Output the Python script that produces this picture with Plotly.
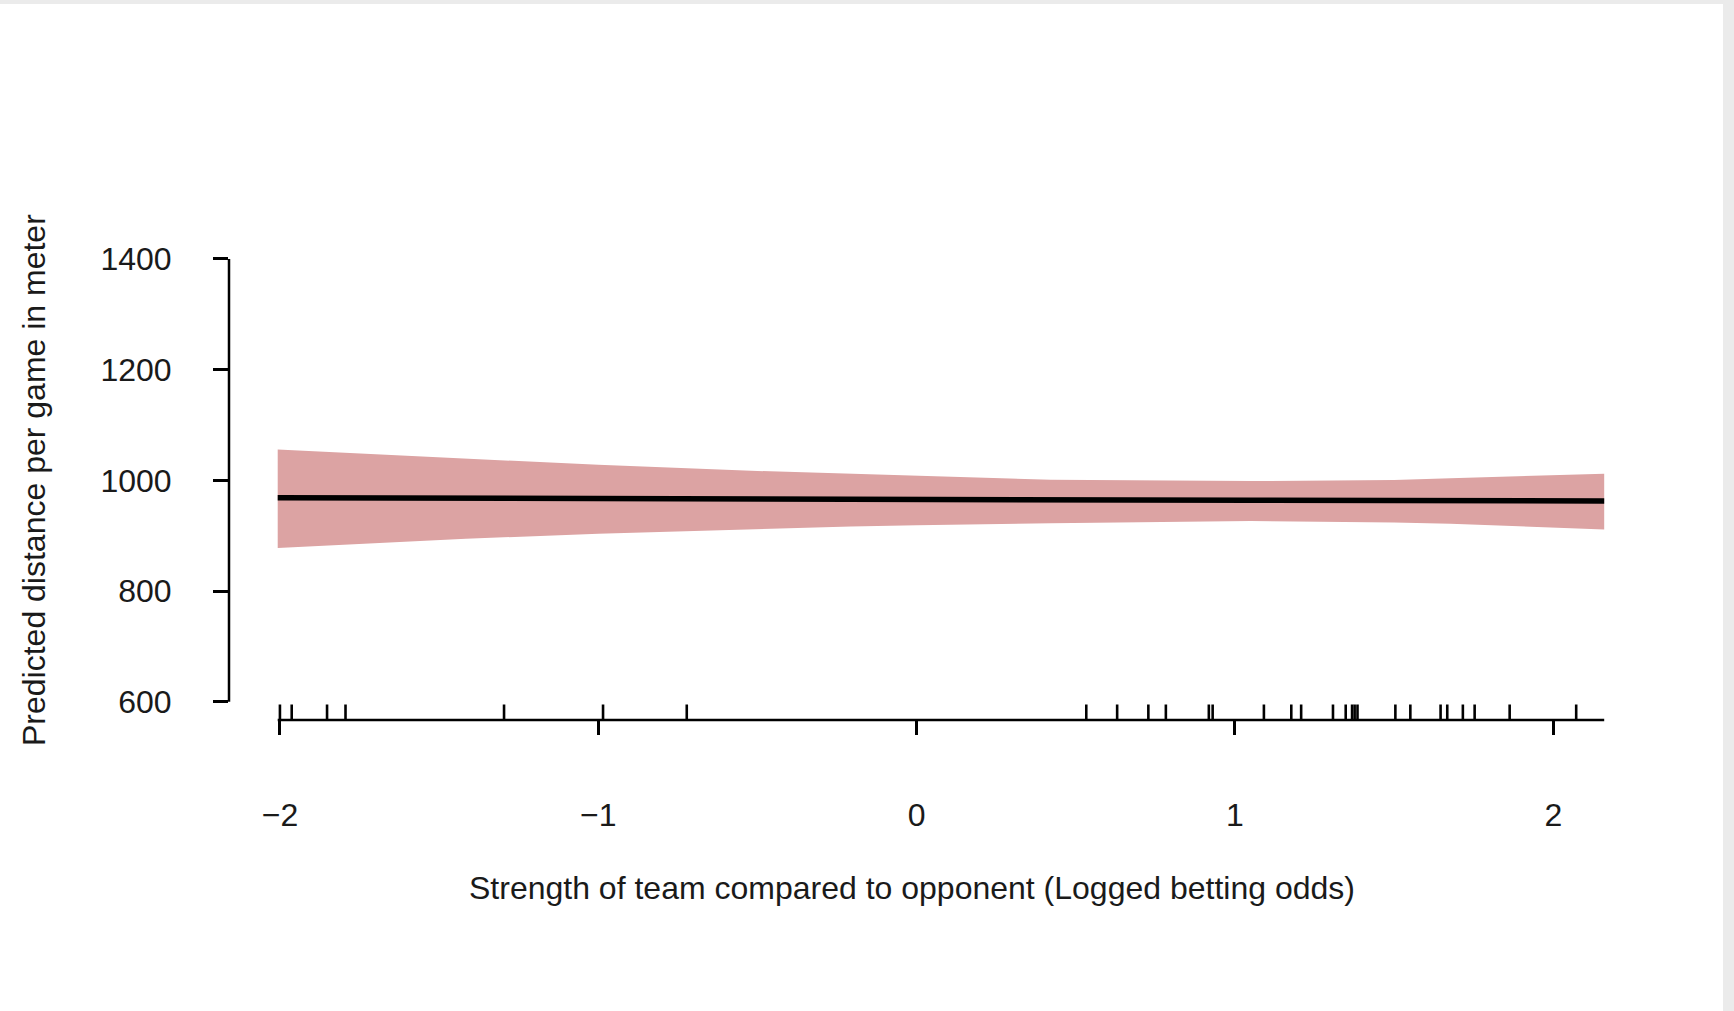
import plotly.graph_objects as go

# ---- data ----
x_fit = [-2.007, -1.416, -1.0, -0.5, -0.207, 0.0, 0.421, 1.049, 1.5, 1.677, 2.0, 2.160]
y_fit = [968.6, 967.3, 966.7, 966.1, 965.8, 965.5, 965.0, 964.0, 963.6, 963.5, 963.0, 962.6]
y_upper = [1055.6, 1039.0, 1028.0, 1017.0, 1012.0, 1008.5, 1001.0, 998.8, 1000.5, 1004.0, 1009.5, 1012.0]
y_lower = [878.0, 894.5, 903.5, 912.0, 916.7, 919.0, 922.7, 926.4, 924.0, 921.6, 915.5, 911.3]

rug_x = [-2.000, -1.963, -1.852, -1.794, -1.296, -0.985, -0.722,
         0.533, 0.630, 0.728, 0.783, 0.918, 0.930, 1.091, 1.177, 1.208,
         1.308, 1.348, 1.368, 1.376, 1.385, 1.504, 1.551, 1.646, 1.667,
         1.716, 1.753, 1.863, 2.072]

x_ticks = [-2, -1, 0, 1, 2]
y_ticks = [600, 800, 1000, 1200, 1400]

x_title = "Strength of team compared to opponent (Logged betting odds)"
y_title = "Predicted distance per game in meter"

# ---- layout constants ----
W, H = 1734, 1011
ML, MR, MT, MB = 229, 76, 241, 291
PW, PH = W - ML - MR, H - MT - MB
x_range = [-2.160, 2.329]
y_range = [567.0, 1432.5]
rug_len = 28  # data units (~15 px)

FONT = "Liberation Sans, Arial, Helvetica, sans-serif"
TXT = "#1a1a1a"
BAND = "#DCA3A3"
FS = 32

def px_x(p):
    return (p - ML) / PW

def px_y(p):
    return (H - MB - p) / PH

fig = go.Figure()

# confidence band
fig.add_trace(go.Scatter(x=x_fit, y=y_upper, mode="lines", line=dict(width=0, color=BAND),
                         hoverinfo="skip", showlegend=False))
fig.add_trace(go.Scatter(x=x_fit, y=y_lower, mode="lines", line=dict(width=0, color=BAND),
                         fill="tonexty", fillcolor=BAND, hoverinfo="skip", showlegend=False))
# fitted line
fig.add_trace(go.Scatter(x=x_fit, y=y_fit, mode="lines", line=dict(width=5.5, color="black"),
                         showlegend=False))

# rug
rx, ry = [], []
for v in rug_x:
    rx += [v, v, None]
    ry += [y_range[0], y_range[0] + rug_len, None]
fig.add_trace(go.Scatter(x=rx, y=ry, mode="lines", line=dict(width=2.6, color="black"),
                         hoverinfo="skip", showlegend=False))

shapes = [
    # y axis line (600..1400)
    dict(type="line", xref="paper", yref="y", x0=0, x1=0, y0=y_ticks[0], y1=y_ticks[-1],
         line=dict(color="black", width=2.5)),
    # x axis line spanning data range
    dict(type="line", xref="x", yref="paper", x0=x_fit[0], x1=x_fit[-1], y0=0, y1=0,
         line=dict(color="black", width=2.5)),
    # screenshot border strips
    dict(type="rect", xref="paper", yref="paper", x0=px_x(1723), x1=px_x(1740),
         y0=px_y(1020), y1=px_y(-10), fillcolor="#EBEBEB", line=dict(width=0), layer="below"),
    dict(type="rect", xref="paper", yref="paper", x0=px_x(-10), x1=px_x(1740),
         y0=px_y(4), y1=px_y(-10), fillcolor="#EBEBEB", line=dict(width=0), layer="below"),
]

annotations = [
    dict(text=x_title, xref="paper", yref="paper", x=px_x(912), y=px_y(888),
         xanchor="center", yanchor="middle", showarrow=False,
         font=dict(family=FONT, size=FS, color=TXT)),
    dict(text=y_title, xref="paper", yref="paper", x=px_x(34), y=px_y(480),
         xanchor="center", yanchor="middle", textangle=-90, showarrow=False,
         font=dict(family=FONT, size=FS, color=TXT)),
]

fig.update_layout(
    width=W, height=H,
    margin=dict(l=ML, r=MR, t=MT, b=MB, autoexpand=False),
    paper_bgcolor="white", plot_bgcolor="white",
    shapes=shapes, annotations=annotations,
    xaxis=dict(range=x_range, tickvals=x_ticks, ticks="outside", ticklen=14, tickwidth=2.5,
               tickcolor="black", showline=False, showgrid=False, zeroline=False,
               ticklabelstandoff=53, tickfont=dict(family=FONT, size=FS, color=TXT)),
    yaxis=dict(range=y_range, tickvals=y_ticks, ticks="outside", ticklen=15, tickwidth=2.5,
               tickcolor="black", showline=False, showgrid=False, zeroline=False,
               ticklabelstandoff=35, tickfont=dict(family=FONT, size=FS, color=TXT)),
)

fig.write_html("out.html",
               config={"displayModeBar": False},
               post_script="document.body.style.margin='0';document.body.style.overflow='hidden';")
